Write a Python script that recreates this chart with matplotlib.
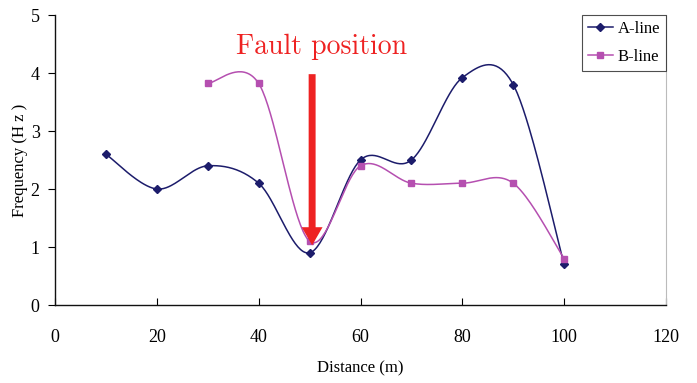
import numpy as np
import matplotlib
matplotlib.use("Agg")
import matplotlib.pyplot as plt

# Data
a_x = [10, 20, 30, 40, 50, 60, 70, 80, 90, 100]
a_y = [2.6, 2.0, 2.4, 2.1, 0.9, 2.5, 2.5, 3.92, 3.8, 0.7]
b_x = [30, 40, 50, 60, 70, 80, 90, 100]
b_y = [3.82, 3.82, 1.1, 2.4, 2.1, 2.1, 2.1, 0.8]
x_ticks = [0, 20, 40, 60, 80, 100, 120]
y_ticks = [0, 1, 2, 3, 4, 5]


def excel_smooth(xs, ys, n=40):
    """Bezier smoothing like spreadsheet 'smoothed line' (Catmull-Rom, 1/6)."""
    P = np.column_stack([xs, ys]).astype(float)
    out = []
    m = len(P)
    t = np.linspace(0, 1, n)[:, None]
    for i in range(m - 1):
        p0 = P[i - 1] if i > 0 else P[i]
        p1 = P[i]
        p2 = P[i + 1]
        p3 = P[i + 2] if i + 2 < m else P[i + 1]
        c1 = p1 + (p2 - p0) / 6.0
        c2 = p2 - (p3 - p1) / 6.0
        seg = ((1 - t) ** 3) * p1 + 3 * ((1 - t) ** 2) * t * c1 + 3 * (1 - t) * t ** 2 * c2 + t ** 3 * p2
        out.append(seg if i == 0 else seg[1:])
    s = np.vstack(out)
    return s[:, 0], s[:, 1]


plt.rcParams['font.family'] = ['Liberation Serif', 'DejaVu Serif']
plt.rcParams['axes.unicode_minus'] = False

fig = plt.figure(figsize=(6.97, 3.83), dpi=100)
ax = fig.add_axes([55 / 697, 78 / 383, 611 / 697, 290 / 383])

a_col = '#1c1c6b'
b_col = '#b54fb0'

sx, sy = excel_smooth(a_x, a_y)
ax.plot(sx, sy, color=a_col, lw=1.1, zorder=3)
ax.plot(a_x, a_y, ls='none', marker='D', ms=4.5, color=a_col, zorder=4)
sx, sy = excel_smooth(b_x, b_y)
ax.plot(sx, sy, color=b_col, lw=1.1, zorder=3)
ax.plot(b_x, b_y, ls='none', marker='s', ms=5, color=b_col, zorder=4)

# legend proxies
ax.plot([], [], color=a_col, lw=1.1, marker='D', ms=4.5, label='A-line')
ax.plot([], [], color=b_col, lw=1.1, marker='s', ms=5, label='B-line')
leg = ax.legend(loc='upper right', bbox_to_anchor=(1.0, 1.0), frameon=True, fancybox=False,
                edgecolor='#222222', fontsize=12, handlelength=1.5, borderaxespad=0,
                handletextpad=0.3, labelspacing=0.75, borderpad=0.35)
leg.get_frame().set_linewidth(0.8)

# Fault annotation
ax.annotate('', xy=(50.5, 1.03), xytext=(50.5, 3.98),
            arrowprops=dict(arrowstyle='simple,head_width=1.5,head_length=1.3,tail_width=0.5',
                            color='#ee2222', lw=0, shrinkA=0, shrinkB=0), zorder=5)
ax.text(52.4, 4.45, 'Fault position', color='#ee2222', fontsize=20,
        ha='center', va='center', family=['cmr10', 'DejaVu Serif'])

ax.set_xlim(0, 120)
ax.set_ylim(0, 5)
ax.set_xticks(x_ticks)
ax.set_yticks(y_ticks)
ax.tick_params(axis='x', direction='in', length=5, width=0.8, pad=17, labelsize=13)
ax.tick_params(axis='y', direction='out', length=5, width=0.8, pad=6, labelsize=13)
for s in ['left', 'bottom']:
    ax.spines[s].set_linewidth(1.0)
    ax.spines[s].set_color('#111111')
ax.spines['top'].set_visible(False)
ax.spines['right'].set_color('#bbbbbb')
ax.spines['right'].set_linewidth(0.8)

ax.set_xlabel('Distance (m)', fontsize=12)
ax.xaxis.set_label_coords(0.5, -0.19)
ax.set_ylabel('Frequency (H z )', fontsize=12)
ax.yaxis.set_label_coords(-0.044, 0.5)

fig.savefig('out.png', dpi=100)
